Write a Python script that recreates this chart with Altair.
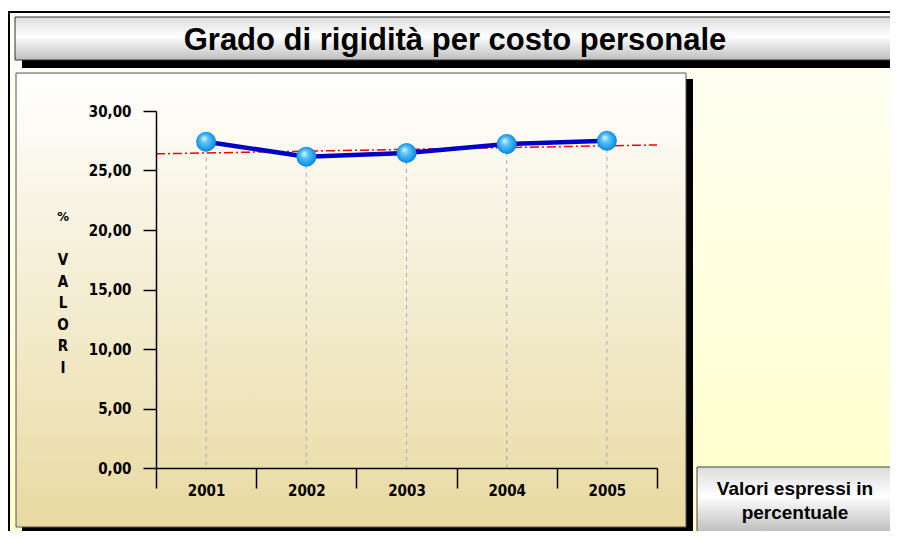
import altair as alt
import pandas as pd

# ---- data ----
years = ["2001", "2002", "2003", "2004", "2005"]
values = [27.42, 26.16, 26.47, 27.23, 27.50]
trend_start = 26.40
trend_end = 27.15
y_ticks = [0, 5, 10, 15, 20, 25, 30]
title_text = "Grado di rigidità per costo personale"
note_lines = ["Valori espressi in", "percentuale"]
y_unit = "%"
y_title_letters = ["V", "A", "L", "O", "R", "I"]

df = pd.DataFrame({"year": years, "value": values})

W, H = 501, 357
FONT = "DejaVu Sans Condensed, DejaVu Sans"


def box(x, y, x2, y2, fill, stroke=None, sw=1):
    kw = dict(fill=fill)
    if stroke is not None:
        kw.update(stroke=stroke, strokeWidth=sw)
    else:
        kw.update(strokeWidth=0)
    return alt.Chart(alt.Data(values=[{}])).mark_rect(**kw).encode(
        x=alt.value(x), x2=alt.value(x2), y=alt.value(y), y2=alt.value(y2)
    )


def label(text, x, y, font, size, line_height=None):
    kw = dict(font=font, fontWeight="bold", fontSize=size, color="#000000",
              align="center", baseline="middle")
    if line_height is not None:
        kw["lineHeight"] = line_height
    return alt.Chart(alt.Data(values=[{}])).mark_text(**kw).encode(
        x=alt.value(x), y=alt.value(y), text=alt.value(text)
    )


def vgrad(stops):
    return alt.LinearGradient(
        gradient="linear",
        stops=[alt.GradientStop(offset=o, color=c) for o, c in stops],
        x1=0, x2=0, y1=0, y2=1,
    )


bg_grad = vgrad([(0, "#FFFFF7"), (1, "#FFFFC8")])
metal_grad = vgrad([(0, "#DCDCDC"), (0.45, "#FFFFFF"), (1, "#BEBEBE")])
panel_grad = vgrad([(0, "#FFFFFF"), (1, "#E9DAA2")])

outer = box(-147, -99, 740, 430, bg_grad, "#000000", 2)
title_shadow = box(-134, -51, 740, -43, "#000000")
title_box = box(-141, -94, 740, -51, metal_grad, "#333333", 1)
panel_shadow = box(-134, -32, 537, 422, "#000000")
panel = box(-140, -38, 530, 416, panel_grad, "#555555", 1)
note_shadow = box(547, 362, 740, 427, "#000000")
note_box = box(541, 356, 741, 421, metal_grad, "#444444", 1)

title = label(title_text, 299, -70, "Liberation Sans", 31)
note = label(note_lines, 639, 378, "Liberation Sans", 19, 24)
unit = label(y_unit, -93, 106, FONT, 13)
ytitle = label(y_title_letters, -93, 149, FONT, 15, 21.6)

x_enc = alt.X(
    "year:N",
    sort=years,
    scale=alt.Scale(type="band", paddingInner=0, paddingOuter=0),
    axis=alt.Axis(
        title=None, tickBand="extent", tickSize=20, tickWidth=1.5,
        tickColor="#000000", domainColor="#000000", domainWidth=1.5,
        labelFont=FONT, labelFontWeight="bold", labelFontSize=15,
        labelColor="#000000", labelBaseline="middle", labelPadding=2,
        labelAngle=0, zindex=2, grid=False,
    ),
)
y_enc = alt.Y(
    "value:Q",
    scale=alt.Scale(domain=[0, 30], nice=False),
    axis=alt.Axis(
        values=y_ticks,
        labelExpr="replace(format(datum.value, '.2f'), '.', ',')",
        tickSize=13, tickWidth=1.5, tickColor="#000000",
        domainColor="#000000", domainWidth=1.5,
        labelFont=FONT, labelFontWeight="bold", labelFontSize=15,
        labelColor="#000000", labelPadding=12, grid=False, zindex=2,
        title=None,
    ),
)

base = alt.Chart(df)

drops = base.mark_rule(color="#A8A8B8", strokeDash=[4, 4], strokeWidth=1).encode(
    x=x_enc, y=y_enc, y2=alt.datum(0)
)

trend = alt.Chart(alt.Data(values=[{}])).mark_rule(
    color="#FF0000", strokeDash=[9, 3, 2, 3], strokeWidth=1.5
).encode(
    x=alt.value(0), x2=alt.value(W),
    y=alt.datum(trend_start, type="quantitative"),
    y2=alt.datum(trend_end),
)

line = base.mark_line(color="#0000C8", strokeWidth=4.5).encode(x=x_enc, y=y_enc)

ball_grad = alt.RadialGradient(
    gradient="radial",
    x1=0.38, y1=0.32, r1=0.0, x2=0.5, y2=0.5, r2=0.55,
    stops=[
        alt.GradientStop(offset=0, color="#E6F8FF"),
        alt.GradientStop(offset=0.35, color="#5CC4FA"),
        alt.GradientStop(offset=0.8, color="#1796E6"),
        alt.GradientStop(offset=1, color="#0B78CC"),
    ],
)
points = base.mark_point(
    shape="circle", filled=True, size=400, fill=ball_grad, opacity=1, strokeWidth=0
).encode(x=x_enc, y=y_enc)

chart = alt.layer(
    outer, title_shadow, title_box, panel_shadow, panel, note_shadow, note_box,
    title, note, unit, ytitle, drops, trend, line, points,
).properties(
    width=W, height=H,
    autosize=alt.AutoSizeParams(type="none"),
    padding={"left": 148, "top": 103, "right": 233, "bottom": 63},
    background="#FFFFFF",
).configure_view(stroke=None)

chart.save("out.html", embed_options={"renderer": "svg", "actions": False})
